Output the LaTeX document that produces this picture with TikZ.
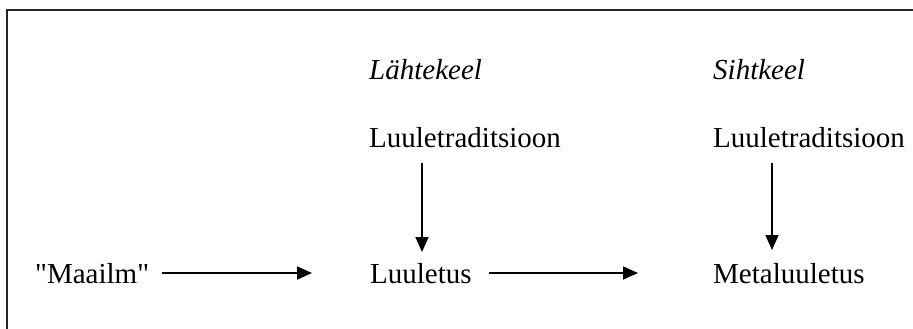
\documentclass[tikz,border=0pt]{standalone}
\usepackage{fontspec}
\setmainfont{Liberation Serif}
% straight double quotes need the TeX ligature mapping switched off
\newfontfamily\rawserif{Liberation Serif}[Ligatures=TeXOff]
\usetikzlibrary{arrows.meta}
\begin{document}
\begin{tikzpicture}[x=1pt,y=1pt,
  lbl/.style={anchor=base west, inner sep=0pt, font=\fontsize{29pt}{34pt}\selectfont},
  head/.style={lbl, font=\fontsize{29pt}{34pt}\selectfont\itshape},
  arr/.style={line width=1.8pt, -{Triangle[length=15pt,width=13pt]}}]
  \useasboundingbox (0,0) rectangle (913,-329);
  \fill[white] (0,0) rectangle (913,-329);
  % frame (only top and left edges fall inside the page)
  \draw[line width=2.2pt, black!85] (7,-329) |- (913,-10);

  % column headings
  \node[head] (src) at (369,-80) {Lähtekeel};
  \node[head] (tgt) at (713,-80) {Sihtkeel};

  % traditions
  \node[lbl] (trad1) at (369,-147) {Luuletraditsioon};
  \node[lbl] (trad2) at (713,-147) {Luuletraditsioon};

  % bottom row
  \node[lbl, font=\fontsize{29pt}{34pt}\rawserif] (world) at (35,-283) {"Maailm"};
  \node[lbl] (poem) at (370,-283) {Luuletus};
  \node[lbl] (meta) at (713,-283) {Metaluuletus};

  % connectors
  \draw[arr] ([xshift=13pt,yshift=10pt]world.base east) -- ([xshift=-58pt,yshift=10pt]poem.base west);
  \draw[arr] ([xshift=17pt,yshift=10pt]poem.base east) -- ([xshift=-75pt,yshift=10pt]meta.base west);
  \draw[arr] ([xshift=53pt,yshift=-16pt]trad1.base west) -- ([xshift=52pt,yshift=31pt]poem.base west);
  \draw[arr] ([xshift=59pt,yshift=-16pt]trad2.base west) -- ([xshift=59pt,yshift=33pt]meta.base west);
\end{tikzpicture}
\end{document}
